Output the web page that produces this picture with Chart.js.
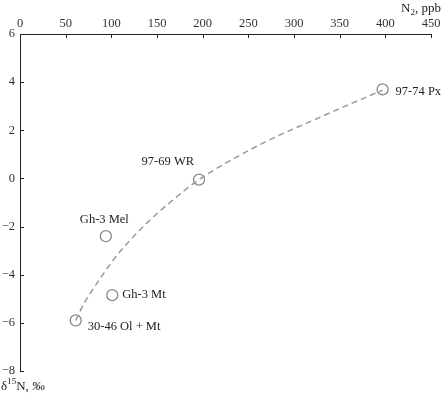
<!DOCTYPE html>
<html>
<head>
<meta charset="utf-8">
<script src="https://cdn.jsdelivr.net/npm/chart.js@4.4.0/dist/chart.umd.min.js"></script>
<style>
  html, body { margin: 0; padding: 0; background: #fff; }
  #wrap { width: 444px; height: 399px; position: relative; }
</style>
</head>
<body>
<div id="wrap"><canvas id="chart"></canvas></div>
<script>
// samples: N2 (ppb) vs d15N (permil)
const sampleNames = ['97-74 Px', '97-69 WR', 'Gh-3 Mel', 'Gh-3 Mt', '30-46 Ol + Mt'];
const sampleN2 = [397, 196, 94, 101, 61];
const sampleD15N = [3.7, -0.05, -2.4, -4.85, -5.9];

// dashed trend curve
const curveN2 = [61, 70, 80, 104, 135, 172, 196, 260, 332, 397];
const curveD15N = [-5.9, -5.2, -4.6, -3.3, -2.0, -0.75, -0.05, 1.35, 2.6, 3.67];

const xTicks = [0, 50, 100, 150, 200, 250, 300, 350, 400, 450];
const yTicks = [6, 4, 2, 0, -2, -4, -6, -8];

const SERIF = '"Liberation Serif", "DejaVu Serif", serif';

// label offsets relative to each point (px)
const labelPos = [
    { dx: 13, dy: 2, align: 'left' },
    { dx: -5, dy: -18, align: 'right' },
    { dx: -26, dy: -16, align: 'left' },
    { dx: 10, dy: 0, align: 'left' },
    { dx: 12, dy: 6, align: 'left' }
];

const minus = v => String(v).replace('-', '\u2212');

const extras = {
    id: 'extras',
    afterDraw(chart) {
        const ctx = chart.ctx;
        const xs = chart.scales.x;
        const ys = chart.scales.y;
        const area = chart.chartArea;
        ctx.save();
        // inside tick marks
        ctx.strokeStyle = '#222';
        ctx.lineWidth = 1;
        ctx.beginPath();
        xTicks.forEach(t => {
            const px = Math.round(xs.getPixelForValue(t)) + 0.5;
            ctx.moveTo(px, area.top);
            ctx.lineTo(px, area.top + 4);
        });
        yTicks.forEach(t => {
            const py = Math.round(ys.getPixelForValue(t)) + 0.5;
            ctx.moveTo(area.left, py);
            ctx.lineTo(area.left + 4, py);
        });
        ctx.stroke();

        // point labels
        ctx.fillStyle = '#222';
        ctx.font = '12.5px ' + SERIF;
        ctx.textBaseline = 'middle';
        sampleNames.forEach((name, i) => {
            const px = xs.getPixelForValue(sampleN2[i]);
            const py = ys.getPixelForValue(sampleD15N[i]);
            const p = labelPos[i];
            ctx.textAlign = p.align;
            ctx.fillText(name, px + p.dx, py + p.dy);
        });

        // x axis title: N2, ppb
        ctx.textAlign = 'left';
        ctx.textBaseline = 'alphabetic';
        const a = 'N', b = '2', c = ', ppb';
        ctx.font = '13px ' + SERIF;
        const wa = ctx.measureText(a).width, wc = ctx.measureText(c).width;
        ctx.font = '9px ' + SERIF;
        const wb = ctx.measureText(b).width;
        let x0 = 441 - wa - wb - wc;
        ctx.font = '13px ' + SERIF;
        ctx.fillText(a, x0, 12);
        ctx.font = '9px ' + SERIF;
        ctx.fillText(b, x0 + wa, 15);
        ctx.font = '13px ' + SERIF;
        ctx.fillText(c, x0 + wa + wb, 12);

        // y axis title: d15N, permil
        let x1 = 1;
        ctx.font = '13px ' + SERIF;
        ctx.fillText('\u03b4', x1, 390);
        x1 += ctx.measureText('\u03b4').width;
        ctx.font = '9px ' + SERIF;
        ctx.fillText('15', x1, 384);
        x1 += ctx.measureText('15').width;
        ctx.font = '13px ' + SERIF;
        ctx.fillText('N, ', x1, 390);
        x1 += ctx.measureText('N, ').width;
        ctx.font = 'italic 13px ' + SERIF;
        ctx.fillText('\u2030', x1, 390);
        ctx.restore();
    }
};

new Chart(document.getElementById('chart'), {
    type: 'scatter',
    data: {
        datasets: [
            {
                type: 'line',
                data: curveN2.map((x, i) => ({ x: x, y: curveD15N[i] })),
                borderColor: '#999',
                borderWidth: 1.5,
                borderDash: [6, 4],
                pointRadius: 0,
                cubicInterpolationMode: 'monotone',
                fill: false
            },
            {
                data: sampleN2.map((x, i) => ({ x: x, y: sampleD15N[i] })),
                pointStyle: 'circle',
                pointRadius: 5.5,
                pointBorderWidth: 1.3,
                pointBorderColor: '#888',
                pointBackgroundColor: 'rgba(255,255,255,0)'
            }
        ]
    },
    options: {
        responsive: true,
        maintainAspectRatio: false,
        animation: false,
        layout: { padding: { left: 0, right: 13, top: 0, bottom: 28 } },
        plugins: { legend: { display: false }, tooltip: { enabled: false } },
        scales: {
            x: {
                type: 'linear',
                position: 'top',
                min: 0,
                max: 450,
                afterBuildTicks: s => { s.ticks = xTicks.map(v => ({ value: v })); },
                afterFit: s => { s.height = 34; },
                grid: { display: false, drawTicks: false },
                border: { display: true, color: '#222', width: 1 },
                ticks: {
                    color: '#333',
                    padding: 3,
                    maxRotation: 0,
                    font: { family: SERIF, size: 12.5 }
                }
            },
            y: {
                type: 'linear',
                min: -8,
                max: 6,
                afterBuildTicks: s => { s.ticks = yTicks.map(v => ({ value: v })); },
                afterFit: s => { s.width = 20; },
                grid: { display: false, drawTicks: false },
                border: { display: true, color: '#222', width: 1 },
                ticks: {
                    color: '#333',
                    padding: 5,
                    font: { family: SERIF, size: 12.5 },
                    callback: v => minus(v)
                }
            }
        }
    },
    plugins: [extras]
});
</script>
</body>
</html>
